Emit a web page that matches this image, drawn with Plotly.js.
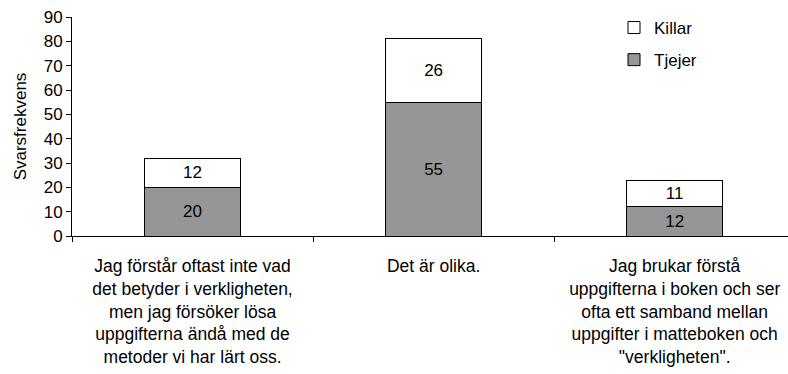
<!DOCTYPE html>
<html>
<head>
<meta charset="utf-8">
<script src="https://cdn.plot.ly/plotly-3.0.1.min.js"></script>
<style>
  html, body { margin: 0; padding: 0; background: #fff; }
  #chart { width: 788px; height: 374px; }
</style>
</head>
<body>
<div id="chart"></div>
<script>
// Answer categories (x axis)
const categories = [
  "Jag förstår oftast inte vad<br>det betyder i verkligheten,<br>men jag försöker lösa<br>uppgifterna ändå med de<br>metoder vi har lärt oss.",
  "Det är olika.",
  "Jag brukar förstå<br>uppgifterna i boken och ser<br>ofta ett samband mellan<br>uppgifter i matteboken och<br>\"verkligheten\"."
];
const categoryKeys = ["a", "b", "c"];

// Answer counts per group
const tjejer = [20, 55, 12];
const killar = [12, 26, 11];

const yTickValues = [0, 10, 20, 30, 40, 50, 60, 70, 80, 90];

const font = { family: "Liberation Sans, Arial, sans-serif", size: 17, color: "#000" };
const catFont = { family: "Liberation Sans, Arial, sans-serif", size: 17.5, color: "#000" };

const barCommon = {
  type: "bar",
  x: categoryKeys,
  width: 0.4,
  textposition: "inside",
  insidetextanchor: "middle",
  textangle: 0,
  constraintext: "none",
  textfont: font,
  hoverinfo: "skip"
};

const traces = [
  Object.assign({}, barCommon, {
    name: "Tjejer",
    y: tjejer,
    text: tjejer.map(String),
    legendgroup: "t",
    legendrank: 2,
    marker: { color: "#969696", line: { color: "#000", width: 1 } }
  }),
  Object.assign({}, barCommon, {
    name: "Killar",
    y: killar,
    text: killar.map(String),
    legendgroup: "k",
    legendrank: 1,
    marker: { color: "#ffffff", line: { color: "#000", width: 1 } }
  })
];

const layout = {
  width: 788,
  height: 374,
  barmode: "stack",
  paper_bgcolor: "#fff",
  plot_bgcolor: "#fff",
  font: font,
  margin: { l: 72, r: 0, t: 17, b: 138 },
  showlegend: true,
  legend: {
    x: 0.757, y: 1.032, xanchor: "left", yanchor: "top",
    traceorder: "grouped",
    tracegroupgap: 7,
    font: font,
    bgcolor: "rgba(0,0,0,0)"
  },
  xaxis: {
    type: "category",
    range: [-0.5, 2.47],
    tickmode: "array",
    tickvals: categoryKeys,
    ticktext: categories,
    tickson: "boundaries",
    ticks: "outside",
    ticklen: 5,
    tickcolor: "#000",
    ticklabelstandoff: 14,
    showline: true,
    linecolor: "#000",
    linewidth: 1,
    showgrid: false,
    zeroline: false,
    tickfont: catFont
  },
  yaxis: {
    range: [0, 90],
    tickmode: "array",
    tickvals: yTickValues,
    ticktext: yTickValues.map(String),
    ticks: "outside",
    ticklen: 5,
    tickcolor: "#000",
    showline: true,
    linecolor: "#000",
    linewidth: 1,
    showgrid: false,
    zeroline: false,
    tickfont: font,
    title: { text: "Svarsfrekvens", font: font, standoff: 12 }
  }
};

Plotly.newPlot("chart", traces, layout, { staticPlot: true, displayModeBar: false });
</script>
</body>
</html>
